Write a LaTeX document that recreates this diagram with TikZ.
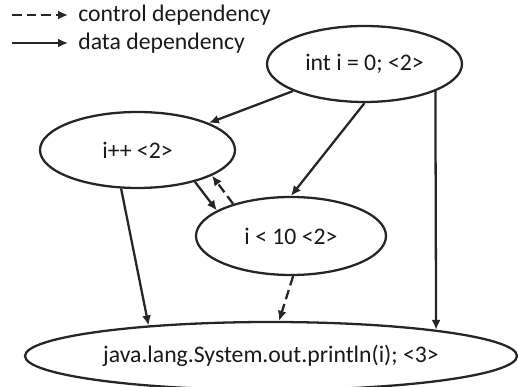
\documentclass[tikz,border=0pt]{standalone}
\usepackage{fontspec}
\setmainfont{Carlito}
\usepackage{xcolor}
\usetikzlibrary{arrows.meta,shapes.geometric}
\definecolor{inkgray}{RGB}{38,38,38}
\tikzset{
  stmt/.style={ellipse, draw=inkgray, line width=1.3pt, fill=white, inner sep=0pt,
    minimum width=3.9cm, minimum height=1.52cm},
  datadep/.style={draw=inkgray, line width=1.3pt, -{Latex[length=2mm,width=1.8mm]}},
  ctrldep/.style={datadep, dash pattern=on 5.5pt off 2.8pt}
}

\begin{document}
\begin{tikzpicture}[every node/.style={font=\fontsize{13.5}{16}\selectfont, text=black!90}]
\useasboundingbox (0,0) rectangle (10.36,7.74);
% legend
\coordinate (ctlstart) at (0.24,7.44);
\node[anchor=west, inner xsep=0.2cm] (ctltxt) at (1.36,7.44) {control dependency};
\coordinate (datstart) at (0.24,6.88);
\node[anchor=west, inner xsep=0.2cm] (dattxt) at (1.36,6.88) {data dependency};
\draw[ctrldep] (ctlstart) -- (ctltxt.west);
\draw[datadep] (datstart) -- (dattxt.west);
% statements
\node[stmt] (init) at (7.29,6.46) {int i = 0; <2>};
\node[stmt] (incr) at (2.75,4.74) {i++ <2>};
\node[stmt, minimum width=3.8cm, minimum height=1.56cm] (cond) at (5.82,3.02) {i < 10 <2>};
\node[stmt, minimum width=9.84cm, minimum height=1.36cm] (prnt) at (5.42,0.62) {java.lang.System.out.println(i); <3>};
% data edges
\draw[datadep] (init) -- (incr);
\draw[datadep] (init.south) -- (cond.north);
\draw[datadep] (init.-21.5) -- (prnt.9);
\draw[datadep] (incr.247) -- (prnt.166);
\draw[datadep] (incr.-29.6) -- (cond.161);
% control edges
\draw[ctrldep] (cond.151) -- (incr.-19.8);
\draw[ctrldep] (cond.-87) -- (prnt.77);
\end{tikzpicture}
\end{document}
